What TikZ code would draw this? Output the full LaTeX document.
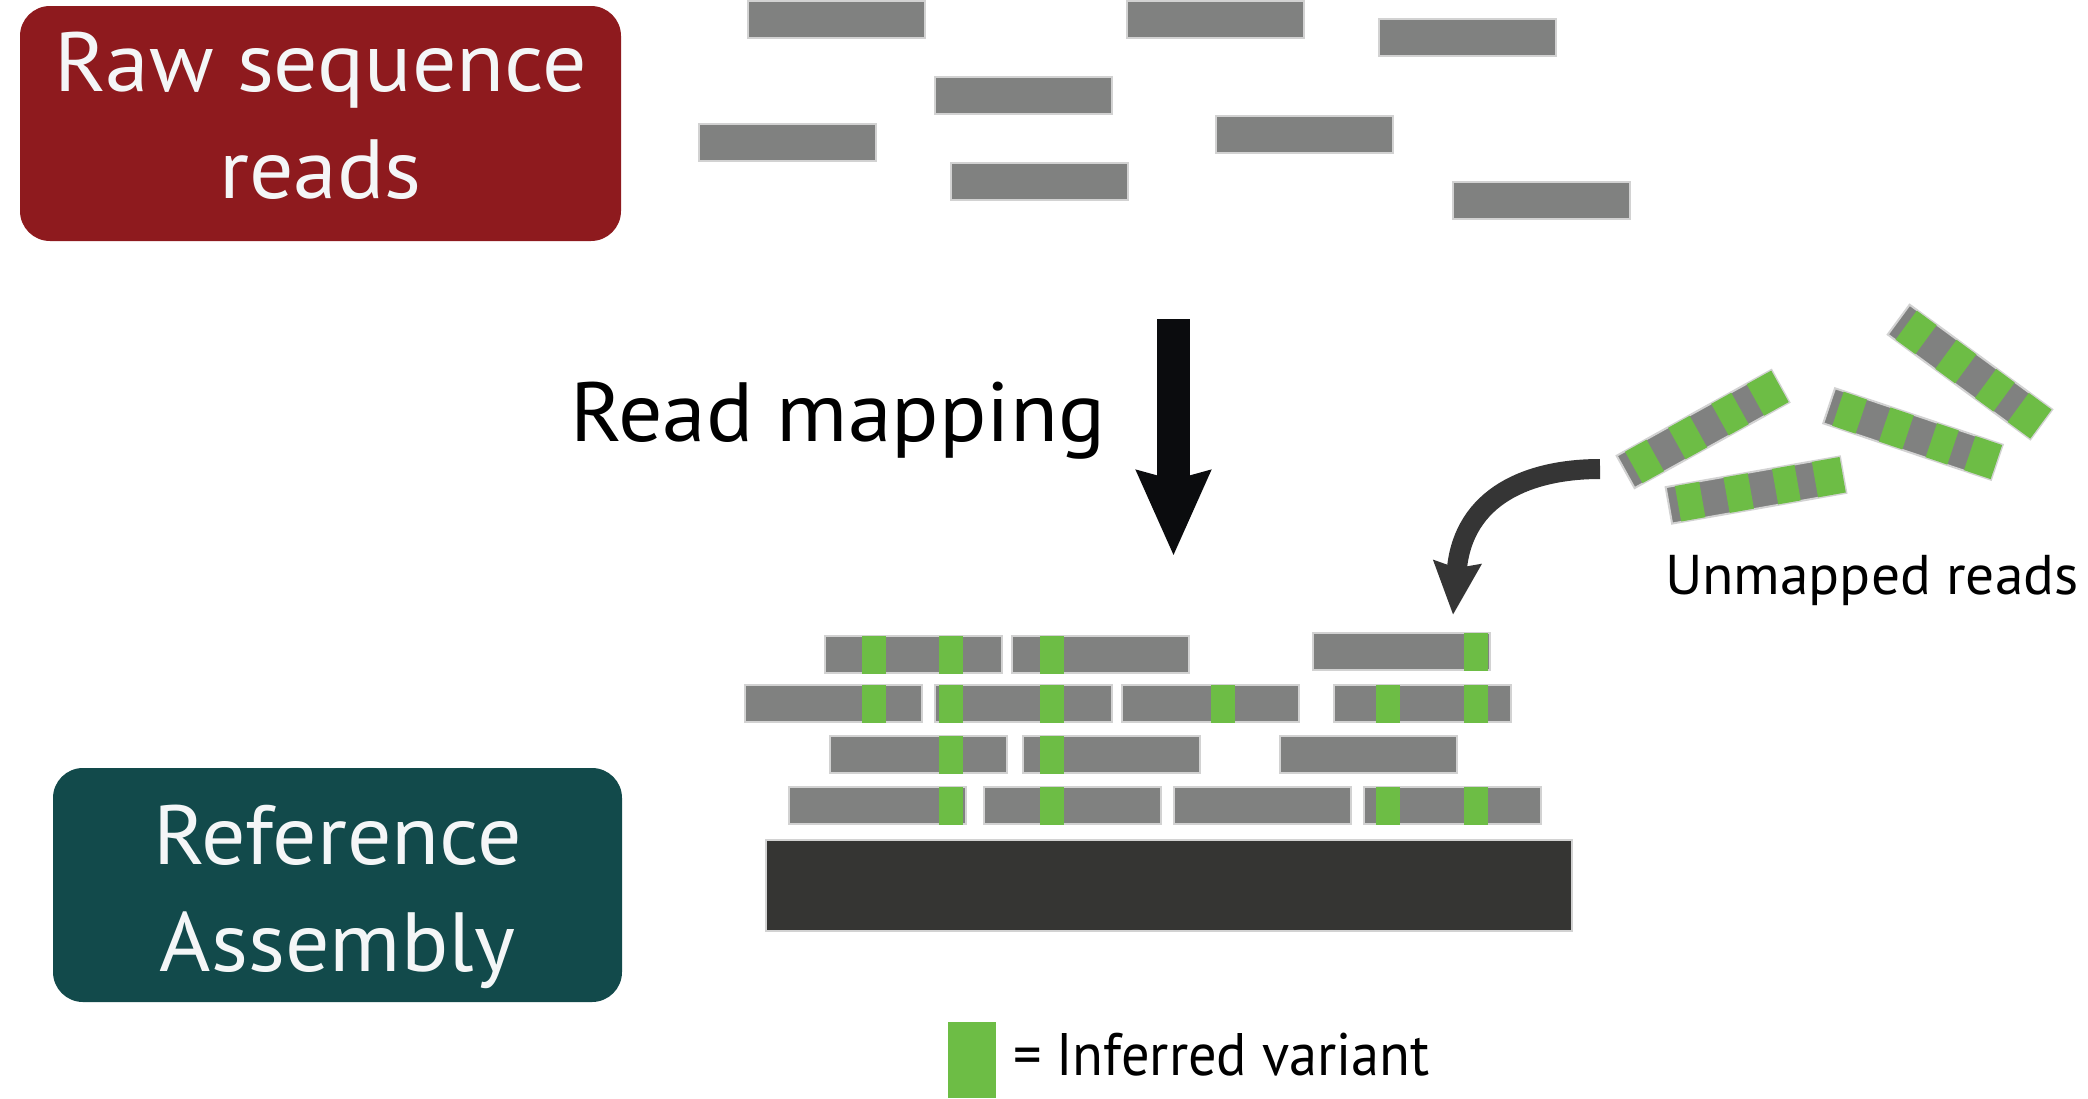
\documentclass[tikz,border=0pt]{standalone}
\usepackage{fontspec}
\setmainfont{PT Sans}
\newfontfamily\widefont[FakeStretch=1.045]{PT Sans}
\newfontfamily\midfont[FakeStretch=1.025]{PT Sans}
\newfontfamily\narrowfont[FakeStretch=0.94]{PT Sans}
\usetikzlibrary{arrows.meta}
\definecolor{rawred}{HTML}{8E1A1E}
\definecolor{refteal}{HTML}{124A4B}
\definecolor{readgrey}{HTML}{808180}
\definecolor{readedge}{HTML}{D2D2D2}
\definecolor{vargreen}{HTML}{6DBD45}
\definecolor{refdark}{HTML}{353533}
\definecolor{boxtext}{HTML}{F4F6F7}
\definecolor{arrowblack}{HTML}{0B0C0E}
\definecolor{arrowdark}{HTML}{353535}
\tikzset{
  titlebox/.style={rectangle, rounded corners=30pt, inner sep=0pt, outer sep=0pt,
    text=boxtext, align=center, font=\widefont\fontsize{84}{107}\selectfont},
  readbox/.style={rectangle, fill=readgrey, draw=readedge, line width=2pt,
    minimum width=177pt, minimum height=37pt, inner sep=0pt, outer sep=0pt},
  label/.style={inner sep=0pt, outer sep=0pt, anchor=base west, text=black},
}
% green variant bar in a stacked read: x, top y
\newcommand\vg[2]{\fill[vargreen] (#1,#2) rectangle ({#1+24},{#2+38});}
% unmapped striped read: name, centre x, centre y, angle
\newcommand\unmapped[4]{%
  \node[readbox, rotate=#4] (#1) at (#2,#3) {};
  \begin{scope}[shift={(#2,#3)}, rotate=#4]
    \foreach \a/\b in {0.05/0.19, 0.33/0.47, 0.61/0.74, 0.84/1.0}
      \fill[vargreen] ({-88+176*\a},-18) rectangle ({-88+176*\b},18);
  \end{scope}}
\begin{document}
\begin{tikzpicture}[x=1pt, y=-1pt]
\useasboundingbox (0,0) rectangle (2088,1098);

% title boxes
\node[titlebox, fill=rawred, minimum width=601pt, minimum height=235pt,
      text height=167pt, text depth=18pt] (raw) at (320.5,123.5) {Raw sequence\\reads};
\node[titlebox, fill=refteal, minimum width=569pt, minimum height=234pt,
      text height=172pt, text depth=0pt] (ref) at (337.5,885) {Reference\\Assembly};

% raw reads
\foreach \n/\x/\y in {r1/748/1, r2/1127/1, r3/1379/19, r4/935/77,
                       r5/699/124, r6/1216/116, r7/951/163, r8/1453/182}
  \node[readbox, anchor=north west] (\n) at (\x,\y) {};

% mapped reads
\foreach \n/\x/\y in {a1/825/636, a2/1012/636, a3/1313/633,
                       b1/745/685, b2/935/685, b3/1122/685, b4/1334/685,
                       c1/830/736, c2/1023/736, c3/1280/736,
                       d1/789/787, d2/984/787, d3/1174/787, d4/1364/787}
  \node[readbox, anchor=north west] (\n) at (\x,\y) {};
\vg{862}{636}\vg{939}{636}\vg{1040}{636}\vg{1464}{633}
\vg{862}{685}\vg{939}{685}\vg{1040}{685}\vg{1211}{685}\vg{1376}{685}\vg{1464}{685}
\vg{939}{736}\vg{1040}{736}
\vg{939}{787}\vg{1040}{787}\vg{1376}{787}\vg{1464}{787}

% reference assembly bar
\node[rectangle, fill=refdark, draw=readedge, line width=2pt, inner sep=0pt,
      minimum width=806pt, minimum height=91pt, anchor=north west] (refbar) at (765,839) {};

% unmapped reads
\unmapped{u1}{1703}{429}{29}
\unmapped{u2}{1756}{490}{10}
\unmapped{u3}{1913}{434}{-18.6}
\unmapped{u4}{1970}{372}{-36.3}

% labels
\node[label, font=\widefont\fontsize{84}{100}\selectfont] (maplabel) at (570,441)
  {Read mapping};
\node[label, font=\midfont\fontsize{56}{60}\selectfont] (unlabel) at (1665,594)
  {Unmapped reads};
\node[fill=vargreen, inner sep=0pt, minimum width=48pt, minimum height=76pt,
      anchor=north west] (legendkey) at (948,1022) {};
\node[label, font=\narrowfont\fontsize{60}{64}\selectfont] (legendlabel) at (1013,1075)
  {= Inferred variant};

% arrows
\coordinate (mapsrc) at (1173.5,319);
\coordinate (mapdst) at (1173.5,556);
\draw[arrowblack, line width=33pt, -{Stealth[length=84pt, width=71pt, inset=8pt]}]
  (mapsrc) -- (mapdst);
\coordinate (unsrc) at (1600,469);
\coordinate (undst) at (1453,615);
\draw[arrowdark, line width=20pt, -{Stealth[length=52pt, width=46pt, inset=5pt]}]
  (unsrc) .. controls (1530,469) and (1463,495) .. (undst);
\end{tikzpicture}
\end{document}
